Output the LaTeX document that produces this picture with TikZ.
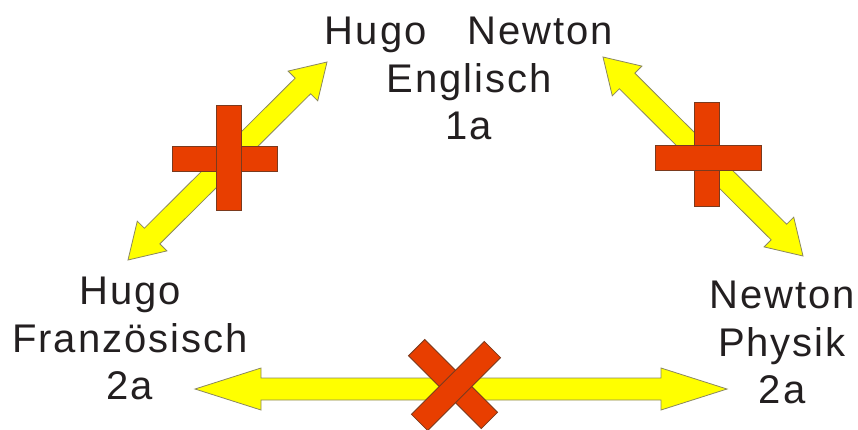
\documentclass[tikz,border=0pt]{standalone}
\usepackage{fontspec}
\setmainfont{Liberation Sans}[LetterSpace=5]
\usetikzlibrary{calc}
\definecolor{arrowyellow}{HTML}{FFFF00}
\definecolor{arrowedge}{HTML}{8A8760}
\definecolor{crossred}{HTML}{E83E00}
\definecolor{crossedge}{HTML}{7A3A1E}
\definecolor{textdark}{HTML}{231F20}
\tikzset{
  arrowshape/.style={fill=arrowyellow, draw=arrowedge, line width=0.8pt, line join=miter},
  barshape/.style={rectangle, fill=crossred, draw=crossedge, line width=0.8pt, inner sep=0pt},
  label/.style={font=\fontsize{40}{47.5}\selectfont, text=textdark, align=center, inner sep=0pt, anchor=north},
}
% double arrow between two named points: #1 A, #2 B, #3 head length, #4 head half width, #5 shaft half width
\newcommand\dblarrowshape[5]{%
  \coordinate (da1) at ($(#1)!#3!(#2)$);
  \coordinate (db1) at ($(#2)!#3!(#1)$);
  \draw[arrowshape] (#1) -- ($(da1)!#4!90:(#2)$) -- ($(da1)!#5!90:(#2)$)
    -- ($(db1)!#5!-90:(#1)$) -- ($(db1)!#4!-90:(#1)$) -- (#2)
    -- ($(db1)!#4!90:(#1)$) -- ($(db1)!#5!90:(#1)$)
    -- ($(da1)!#5!-90:(#2)$) -- ($(da1)!#4!-90:(#2)$) -- cycle;
}
\begin{document}
\begin{tikzpicture}[x=1pt,y=-1pt]
  \useasboundingbox (0,0) rectangle (858,429);
  \clip (0,0) rectangle (858,429);

  % labels
  \node[label] (top) at (469,17) {Hugo\hspace{41pt}Newton\\Englisch\\1a};
  \node[label] (left) at (130,277) {Hugo\\Französisch\\2a};
  \node[label] (right) at (782,281) {Newton\\Physik\\2a};

  % arrow end points
  \coordinate (lt) at (327,62);
  \coordinate (lb) at (128,260);
  \coordinate (rt) at (603,57);
  \coordinate (rb) at (803,256);
  \coordinate (bl) at (195,389);
  \coordinate (br) at (727,389);

  \dblarrowshape{lt}{lb}{34pt}{21pt}{11pt}
  \dblarrowshape{rt}{rb}{34pt}{21pt}{11pt}
  \dblarrowshape{bl}{br}{66pt}{21pt}{11pt}

  % left plus (vertical bar on top)
  \node[barshape, minimum width=105pt, minimum height=25pt] (lph) at (224.5,158.5) {};
  \node[barshape, minimum width=25pt, minimum height=105pt] (lpv) at (228.5,157.5) {};

  % right plus (horizontal bar on top)
  \node[barshape, minimum width=25pt, minimum height=104pt] (rpv) at (706.5,154) {};
  \node[barshape, minimum width=106pt, minimum height=25pt] (rph) at (708,157.5) {};

  % bottom X
  \node[barshape, minimum width=103pt, minimum height=23pt, rotate=-45] (xa) at (453,384) {};
  \node[barshape, minimum width=103pt, minimum height=23pt, rotate=45] (xb) at (456,386) {};
\end{tikzpicture}
\end{document}
